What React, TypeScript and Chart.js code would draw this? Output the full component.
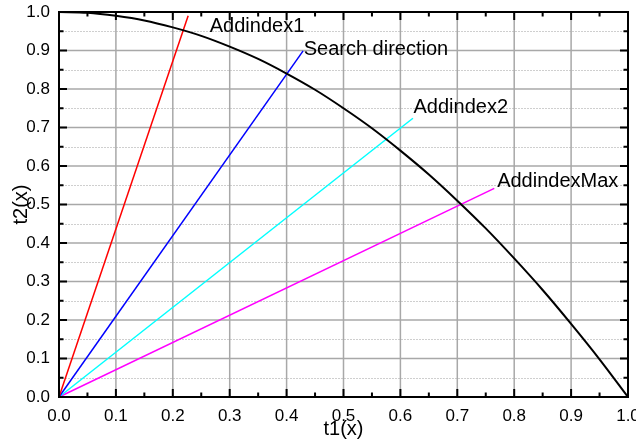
import React, { useEffect, useRef } from 'react';
import { Chart, registerables } from 'chart.js';

Chart.register(...registerables);

// Boundary curve t2 vs t1
const curveT1 = [0, 0.05, 0.1, 0.15, 0.2, 0.25, 0.3, 0.35, 0.4, 0.45, 0.5, 0.55, 0.6, 0.65, 0.7, 0.75, 0.8, 0.85, 0.9, 0.95, 1.0];
const curveT2 = [1.0, 0.998, 0.99, 0.978, 0.96, 0.938, 0.91, 0.878, 0.84, 0.798, 0.75, 0.698, 0.64, 0.578, 0.51, 0.438, 0.36, 0.278, 0.19, 0.098, 0.0];

// Rays from the origin
const rayNames = ['Addindex1', 'Search direction', 'Addindex2', 'AddindexMax'];
const rayColors = ['#ff0000', '#0000ff', '#00ffff', '#ff00ff'];
const rayEndT1 = [0.227, 0.429, 0.622, 0.765];
const rayEndT2 = [0.99, 0.899, 0.724, 0.542];

// Label anchor points (left edge, baseline) in data units
const labelT1 = [0.265, 0.43, 0.623, 0.77];
const labelT2 = [0.948, 0.888, 0.738, 0.545];

const xTitle = 't1(x)';
const yTitle = 't2(x)';
const axisMin = 0;
const axisMax = 1;
const majorStep = 0.1;
const minorStep = 0.05;

const FONT = "'Liberation Sans', Arial, Helvetica, sans-serif";

const framePlugin = {
  id: 'framePlugin',
  beforeDatasetsDraw(chart: any) {
    const { ctx, chartArea: a, scales } = chart;
    const x = scales.x;
    const y = scales.y;
    ctx.save();
    const nMinor = Math.round((axisMax - axisMin) / minorStep);
    ctx.strokeStyle = '#cfcfcf';
    ctx.lineWidth = 1;
    ctx.setLineDash([2, 1]);
    for (let i = 0; i <= nMinor; i++) {
      if (i % 2 === 0) continue;
      const py = Math.round(y.getPixelForValue(axisMin + i * minorStep)) + 0.5;
      ctx.beginPath();
      ctx.moveTo(a.left, py);
      ctx.lineTo(a.right, py);
      ctx.stroke();
    }
    ctx.setLineDash([]);
    ctx.strokeStyle = '#a8a8a8';
    ctx.lineWidth = 1.5;
    const nMajor = Math.round((axisMax - axisMin) / majorStep);
    for (let i = 1; i < nMajor; i++) {
      const v = axisMin + i * majorStep;
      const py = y.getPixelForValue(v);
      ctx.beginPath();
      ctx.moveTo(a.left, py);
      ctx.lineTo(a.right, py);
      ctx.stroke();
      const px = x.getPixelForValue(v);
      ctx.beginPath();
      ctx.moveTo(px, a.top);
      ctx.lineTo(px, a.bottom);
      ctx.stroke();
    }
    ctx.restore();
  },
  afterDatasetsDraw(chart: any) {
    const { ctx, chartArea: a, scales } = chart;
    const x = scales.x;
    const y = scales.y;
    ctx.save();
    ctx.strokeStyle = '#000';
    ctx.lineWidth = 2;
    ctx.strokeRect(a.left, a.top, a.right - a.left, a.bottom - a.top);
    const nMinor = Math.round((axisMax - axisMin) / minorStep);
    for (let i = 0; i <= nMinor; i++) {
      const len = i % 2 === 0 ? 8 : 4.5;
      const v = axisMin + i * minorStep;
      const px = x.getPixelForValue(v);
      const py = y.getPixelForValue(v);
      ctx.beginPath();
      ctx.moveTo(px, a.bottom); ctx.lineTo(px, a.bottom - len);
      ctx.moveTo(px, a.top); ctx.lineTo(px, a.top + len);
      ctx.moveTo(a.left, py); ctx.lineTo(a.left + len, py);
      ctx.moveTo(a.right, py); ctx.lineTo(a.right - len, py);
      ctx.stroke();
    }
    ctx.fillStyle = '#000';
    ctx.font = `20px ${FONT}`;
    ctx.textAlign = 'left';
    ctx.textBaseline = 'alphabetic';
    for (let i = 0; i < rayNames.length; i++) {
      ctx.fillText(rayNames[i], x.getPixelForValue(labelT1[i]), y.getPixelForValue(labelT2[i]));
    }
    ctx.textAlign = 'center';
    ctx.textBaseline = 'middle';
    ctx.fillText(xTitle, (a.left + a.right) / 2, a.bottom + 32);
    ctx.save();
    ctx.translate(a.left - 38, (a.top + a.bottom) / 2);
    ctx.rotate(-Math.PI / 2);
    ctx.fillText(yTitle, 0, 0);
    ctx.restore();
    ctx.restore();
  },
};

export default function App() {
  const ref = useRef<HTMLCanvasElement | null>(null);
  useEffect(() => {
    if (!ref.current) return;
    const datasets: any[] = [
      {
        label: 'boundary',
        data: curveT1.map((t, i) => ({ x: t, y: curveT2[i] })),
        borderColor: '#000000',
        borderWidth: 2,
        pointRadius: 0,
        showLine: true,
        cubicInterpolationMode: 'monotone',
        clip: 4,
      },
    ];
    rayNames.forEach((name, i) => {
      datasets.push({
        label: name,
        data: [
          { x: 0, y: 0 },
          { x: rayEndT1[i], y: rayEndT2[i] },
        ],
        borderColor: rayColors[i],
        borderWidth: 1.5,
        pointRadius: 0,
        showLine: true,
        clip: 4,
      });
    });
    const tickFont = { family: FONT, size: 17 };
    const chart = new Chart(ref.current, {
      type: 'scatter',
      data: { datasets },
      plugins: [framePlugin],
      options: {
        animation: false,
        responsive: false,
        maintainAspectRatio: false,
        layout: { padding: { left: 0, top: 12, right: 8, bottom: 0 } },
        plugins: { legend: { display: false }, tooltip: { enabled: false } },
        scales: {
          x: {
            type: 'linear',
            min: axisMin,
            max: axisMax,
            grid: { display: false, drawTicks: false },
            border: { display: false },
            ticks: {
              stepSize: majorStep,
              color: '#000',
              font: tickFont,
              padding: 9,
              maxRotation: 0,
              autoSkip: false,
              callback: (v: any) => Number(v).toFixed(1),
            },
            afterFit: (s: any) => {
              s.height = 46;
              s.paddingLeft = 0;
              s.paddingRight = 0;
            },
          },
          y: {
            type: 'linear',
            min: axisMin,
            max: axisMax,
            grid: { display: false, drawTicks: false },
            border: { display: false },
            ticks: {
              stepSize: majorStep,
              color: '#000',
              font: tickFont,
              padding: 9,
              autoSkip: false,
              callback: (v: any) => Number(v).toFixed(1),
            },
            afterFit: (s: any) => {
              s.width = 59;
              s.paddingTop = 0;
              s.paddingBottom = 0;
            },
          },
        },
      } as any,
    });
    return () => chart.destroy();
  }, []);
  return (
    <div style={{ position: 'fixed', left: 0, top: 0, width: 636, height: 443, background: '#fff' }}>
      <canvas ref={ref} width={636} height={443} style={{ display: 'block', width: 636, height: 443 }} />
    </div>
  );
}
